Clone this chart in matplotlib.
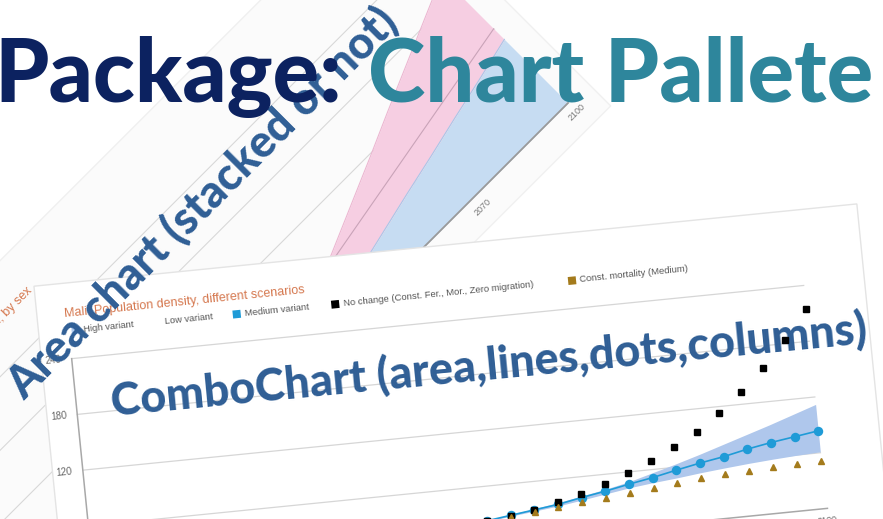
import matplotlib
matplotlib.use("Agg")
import matplotlib.pyplot as plt
from matplotlib.transforms import Affine2D
from matplotlib.patches import Rectangle
import numpy as np

# ---- combo chart data (Mali: population density, scenarios) ----
years_c = [2015, 2020, 2025, 2030, 2035, 2040, 2045, 2050, 2055,
           2060, 2065, 2070, 2075, 2080, 2085, 2090, 2095, 2100]
medium = [14.6, 17.0, 20.0, 23.0, 26.3, 29.6, 32.9, 37.7, 42.0,
          46.9, 51.4, 56.8, 61.8, 66.1, 71.6, 76.1, 79.8, 83.6]
high = [14.6, 17.1, 20.3, 23.6, 27.2, 30.9, 34.8, 39.4, 44.0,
        49.5, 56.5, 63.5, 71.0, 79.0, 87.0, 95.0, 103.5, 112.0]
low = [14.6, 16.9, 19.7, 22.4, 25.4, 28.3, 31.2, 35.0, 39.0,
       43.0, 46.0, 48.5, 51.5, 54.0, 56.3, 58.2, 59.8, 61.0]
no_change = [14.6, 17.3, 20.5, 23.0, 26.0, 30.0, 36.0, 42.0, 50.0,
             59.4, 69.7, 81.2, 95.8, 112.8, 132.7, 156.2, 183.7, 215.0]
const_mort = [14.6, 16.8, 19.2, 21.8, 24.5, 26.8, 30.6, 32.4, 35.0,
              37.8, 40.6, 43.3, 45.3, 47.4, 48.6, 50.0, 50.7, 51.3]
combo_grid = [60, 120, 180, 240]
combo_grid_labels = [120, 180, 240]
combo_year_ticks = [2100]
legend_labels = ["High variant", "Low variant", "Medium variant",
                 "No change (Const. Fer., Mor., Zero migration)",
                 "Const. mortality (Medium)"]
legend_colors = ["#b3cdf0", "#ffffff", "#1f9bd7", "#000000", "#a47b1c"]

# ---- area chart data (stacked, by sex) ----
years_a = [2020, 2030, 2040, 2050, 2060, 2070, 2080, 2090, 2100]
male = [1.6, 3.6, 5.5, 7.5, 9.5, 11.4, 13.4, 15.3, 17.3]
female = [3.1, 4.8, 6.6, 8.3, 10.0, 11.9, 13.6, 15.4, 17.1]
pink_line_years = [2038, 2100]
pink_line_vals = [10.6, 20.2]
area_grid = [10, 20, 30, 40]
area_ticks = [2010, 2040, 2070, 2100]

W, H = 883, 519
fig = plt.figure(figsize=(W / 100, H / 100), dpi=100)
ax = fig.add_axes([0, 0, 1, 1])
ax.axis("off")
small = ["Liberation Sans", "DejaVu Sans"]

# ---------------- back panel: rotated area chart ----------------
area_tr = (Affine2D().translate(-2100, 0).scale(4.47, 5.2)
           .rotate_deg(45).translate(568, H - 103) + ax.transData)
ax.add_patch(Rectangle((1880, -6.2), 226.3, 62, transform=area_tr,
                       facecolor="#fbfbfb", edgecolor="#f0f0f0", lw=1, zorder=1))
for v in area_grid:
    ax.plot([1880, 2100], [v, v], transform=area_tr, color="#d8d8d8", lw=0.8, zorder=2)
ax.plot([1880, 2100], [0, 0], transform=area_tr, color="#9a9a9a", lw=1.3, zorder=4)
total = np.array(male) + np.array(female)
ax.fill_between(years_a, 0, male, transform=area_tr, color="#c6dcf2", lw=0, zorder=3)
ax.fill_between(years_a, male, total, transform=area_tr, color="#f6cee2", lw=0, zorder=3)
ax.plot(years_a, male, transform=area_tr, color="#a9c6e8", lw=0.8, zorder=3)
ax.plot(years_a, total, transform=area_tr, color="#ecb6d1", lw=0.8, zorder=3)
ax.plot(pink_line_years, pink_line_vals, transform=area_tr, color="#c9a3b8", lw=0.8, zorder=3)
for yr in area_ticks:
    ax.text(yr, -2.5, str(yr), transform=area_tr, rotation=45, rotation_mode="anchor",
            ha="center", va="center", fontsize=6.5, color="#777777", family=small, zorder=3)
ax.text(1985.4, 47.2, "Mali: Population, by sex", transform=area_tr, rotation=45,
        rotation_mode="anchor", ha="right", va="baseline", fontsize=9,
        color="#d5784f", family=small, zorder=3)

# ---------------- front panel: rotated combo chart ----------------
ANG = 5.71
card_tr = Affine2D().rotate_deg(ANG).translate(826, H - 508.5) + ax.transData
combo_tr = Affine2D().translate(-2100, 0).scale(4.84, 0.934) + card_tr

ax.add_patch(Rectangle((-766, -60), 827, 360, transform=card_tr,
                       facecolor="#ffffff", edgecolor="#e4e4e4", lw=1, zorder=5))
for v in combo_grid:
    ax.plot([1948, 2100], [v, v], transform=combo_tr, color="#d6d6d6", lw=0.9, zorder=6)
for v in combo_grid_labels:
    ax.text(1944.2, v, str(v), transform=combo_tr, rotation=ANG, rotation_mode="anchor",
            ha="center", va="center", fontsize=7, color="#666666", family=small, zorder=6)
ax.plot([1948, 2100.3], [0, 0], transform=combo_tr, color="#a8a8a8", lw=1.1, zorder=6)
ax.plot([1948, 1948], [0, 240], transform=combo_tr, color="#a8a8a8", lw=1.1, zorder=6)
for yr in combo_year_ticks:
    ax.text(yr, -13, str(yr), transform=combo_tr, rotation=ANG, rotation_mode="anchor",
            ha="center", va="center", fontsize=6.5, color="#666666", family=small, zorder=6)

ax.fill_between(years_c, low, high, transform=combo_tr, color="#afc7ec", lw=0, zorder=7)
ax.plot(years_c, medium, transform=combo_tr, color="#1f9bd7", lw=1.2, marker="o",
        ms=6.8, mec="none", zorder=10)
ax.plot(years_c, no_change, "s", transform=combo_tr, color="black", ms=4.6, zorder=10)
ax.plot(years_c, const_mort, "^", transform=combo_tr, color="#a47b1c", ms=5, zorder=10)

ax.text(-738, 266, "Mali: Population density, different scenarios", transform=card_tr,
        rotation=ANG, rotation_mode="anchor", ha="left", va="baseline", fontsize=9,
        color="#d5784f", family=small, zorder=7)
legend_x = [-729, -647, -567, -468, -230]
for lx, lab, col in zip(legend_x, legend_labels, legend_colors):
    ax.add_patch(Rectangle((lx - 4, 248), 8, 8, transform=card_tr, facecolor=col,
                           edgecolor="none", zorder=7))
    ax.text(lx + 8, 252, lab, transform=card_tr, rotation=ANG, rotation_mode="anchor",
            ha="left", va="center", fontsize=6.8, color="#555555", family=small, zorder=7)

# ---------------- overlay slide texts ----------------
renderer = fig.canvas.get_renderer()


def fit_text(x, y, s, width, rot, **kw):
    t = ax.text(x, y, s, fontsize=40, rotation=0, rotation_mode="anchor", **kw)
    w = t.get_window_extent(renderer).width
    t.set_fontsize(40 * width / w)
    t.set_rotation(rot)
    return t


big = dict(family=["Lato", "DejaVu Sans"], fontweight="black")
t2 = fit_text(368, H - 102, "Chart Pallete", 505, 0, ha="left", va="baseline",
              color="#2e869c", zorder=20, **big)
ax.text(342, H - 102, "Package:", fontsize=t2.get_fontsize(), ha="right", va="baseline",
        color="#0c2260", zorder=20, **big)
fit_text(203, H - 203, "Area chart (stacked or not)", 532, 45, ha="center", va="center",
         color="#2f5e95", zorder=15, **big)
fit_text(489, H - 366, "ComboChart (area,lines,dots,columns)", 757, 5.5, ha="center",
         va="center", color="#2f5e95", zorder=8, **big)

ax.set_xlim(0, W)
ax.set_ylim(0, H)
fig.savefig("out.png", dpi=100, facecolor="white")
